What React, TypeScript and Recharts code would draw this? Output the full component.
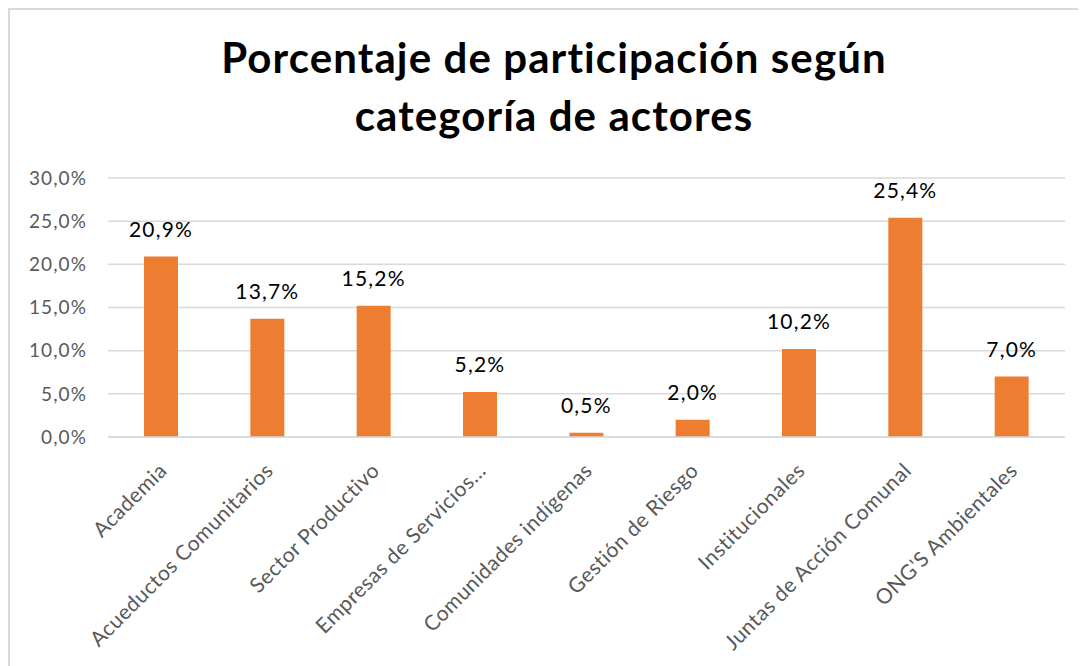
import React from "react";
import { BarChart, Bar, XAxis, YAxis, CartesianGrid, LabelList } from "recharts";

// Categories and participation shares (%)
const CATEGORIES = [
  "Academia",
  "Acueductos Comunitarios",
  "Sector Productivo",
  "Empresas de Servicios…",
  "Comunidades indígenas",
  "Gestión de Riesgo",
  "Institucionales",
  "Juntas de Acción Comunal",
  "ONG'S Ambientales",
];
const VALUES = [20.9, 13.7, 15.2, 5.2, 0.5, 2.0, 10.2, 25.4, 7.0];
const Y_TICKS = [0, 5, 10, 15, 20, 25, 30];
const TITLE_LINES = ["Porcentaje de participación según", "categoría de actores"];

const FONT = "Lato, 'Open Sans', sans-serif";
const BAR_COLOR = "#ED7D31";

const fmt = (v: number) => `${v.toFixed(1).replace(".", ",")}%`;

const data = CATEGORIES.map((name, i) => ({ name, value: VALUES[i] }));

function RotatedTick(props: any) {
  const { x, y, payload } = props;
  return (
    <g transform={`translate(${x + 7},${y + 27})`}>
      <text
        transform="rotate(-45)"
        textAnchor="end"
        fill="#595959"
        fontSize={21}
        letterSpacing={0.5}
        fontFamily={FONT}
      >
        {payload.value}
      </text>
    </g>
  );
}

export default function App() {
  return (
    <div
      style={{
        position: "relative",
        width: 1078,
        height: 658,
        borderLeft: "2px solid #d9d9d9",
        borderTop: "2px solid #d9d9d9",
        boxSizing: "border-box",
        background: "#fff",
        fontFamily: FONT,
      }}
    >
      <div
        style={{
          position: "absolute",
          top: 18,
          left: 6,
          width: "100%",
          textAlign: "center",
          fontWeight: 700,
          fontSize: 42,
          letterSpacing: 1.1,
          lineHeight: "58px",
          color: "#000",
        }}
      >
        {TITLE_LINES.map((l) => (
          <div key={l}>{l}</div>
        ))}
      </div>
      <div style={{ position: "absolute", left: -2, top: -2 }}>
        <BarChart
          width={1078}
          height={658}
          data={data}
          margin={{ top: 170, right: 21, left: 0, bottom: 0 }}
          barSize={34}
        >
          <CartesianGrid vertical={false} stroke="#d9d9d9" strokeWidth={1.5} />
          <XAxis
            dataKey="name"
            interval={0}
            height={229}
            tick={<RotatedTick />}
            tickLine={false}
            axisLine={{ stroke: "#d9d9d9", strokeWidth: 1.5 }}
          />
          <YAxis
            width={100}
            domain={[0, 30]}
            ticks={Y_TICKS}
            tickFormatter={fmt}
            tick={{ fill: "#595959", fontSize: 19, fontFamily: FONT, letterSpacing: 1.1 }}
            tickLine={false}
            axisLine={false}
            tickMargin={15}
          />
          <Bar dataKey="value" fill={BAR_COLOR} isAnimationActive={false}>
            <LabelList
              dataKey="value"
              position="top"
              offset={20}
              formatter={(v: any) => fmt(Number(v))}
              fill="#000"
              fontSize={21}
              letterSpacing={1.2}
              fontFamily={FONT}
            />
          </Bar>
        </BarChart>
      </div>
    </div>
  );
}
